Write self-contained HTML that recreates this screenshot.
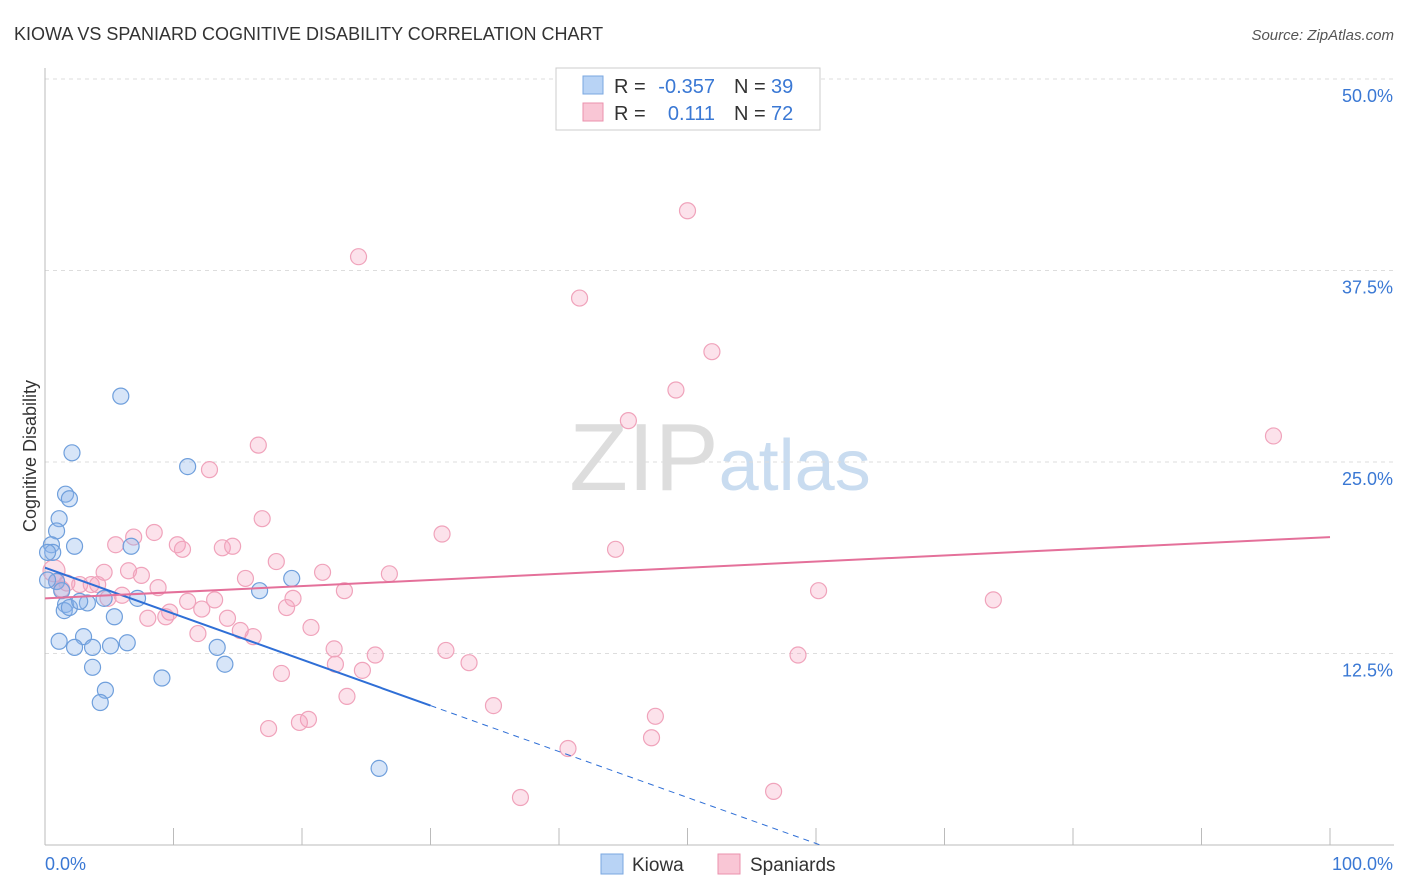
<!DOCTYPE html>
<html><head><meta charset="utf-8">
<style>
body{margin:0;background:#fff;font-family:"Liberation Sans",sans-serif;}
#wrap{position:relative;width:1406px;height:892px;overflow:hidden}
text{font-family:"Liberation Sans",sans-serif}
</style></head>
<body>
<div id="wrap">
<svg id="chart" width="1406" height="892">
<text x="14" y="40" font-size="18" fill="#333">KIOWA VS SPANIARD COGNITIVE DISABILITY CORRELATION CHART</text>
<text x="1394" y="40" font-size="15" fill="#555" text-anchor="end" font-style="italic">Source: ZipAtlas.com</text>
<text x="36" y="456" font-size="18" fill="#333" text-anchor="middle" transform="rotate(-90 36 456)">Cognitive Disability</text>
<text x="720" y="490" font-size="96" fill="#ddd" text-anchor="middle" font-family="Liberation Serif">ZIP<tspan fill="#c9dcf0" font-family="Liberation Sans" font-size="72">atlas</tspan></text>
<g id="grid"></g><g id="marks"></g>
<g>
<rect x="556" y="68" width="264" height="62" fill="#fff" stroke="#ccc"/>
<rect x="583" y="76" width="20" height="18" fill="#b8d3f5" stroke="#7aa7e0"/>
<text x="614" y="93" font-size="20" fill="#333">R =</text>
<text x="715" y="93" font-size="20" fill="#3a78d4" text-anchor="end">-0.357</text>
<text x="734" y="93" font-size="20" fill="#333">N =</text>
<text x="771" y="93" font-size="20" fill="#3a78d4">39</text>
<rect x="583" y="103" width="20" height="18" fill="#f9c6d5" stroke="#eb91ad"/>
<text x="614" y="120" font-size="20" fill="#333">R =</text>
<text x="715" y="120" font-size="20" fill="#3a78d4" text-anchor="end">0.111</text>
<text x="734" y="120" font-size="20" fill="#333">N =</text>
<text x="771" y="120" font-size="20" fill="#3a78d4">72</text>
</g>
<g>
<rect x="601" y="854" width="22" height="20" fill="#b8d3f5" stroke="#7aa7e0"/>
<text x="632" y="871" font-size="19" fill="#333">Kiowa</text>
<rect x="718" y="854" width="22" height="20" fill="#f9c6d5" stroke="#eb91ad"/>
<text x="750" y="871" font-size="19" fill="#333">Spaniards</text>
</g>
</svg></div>
<script>
const yTicks=[12.5,25.0,37.5,50.0];
const kiowaX=[5.9,2.1,11.1,1.6,1.9,1.1,0.9,0.5,2.3,6.7,0.6,0.2,0.9,1.3,1.6,1.5,1.9,3.3,2.7,7.2,4.6,16.7,19.2,5.4,1.1,3.0,2.3,3.7,5.1,6.4,13.4,3.7,14.0,9.1,4.7,4.3,26.0,0.2];
const kiowaY=[29.3,25.6,24.7,22.9,22.6,21.3,20.5,19.6,19.5,19.5,19.1,19.1,17.2,16.6,15.7,15.3,15.5,15.8,15.9,16.1,16.1,16.6,17.4,14.9,13.3,13.6,12.9,12.9,13.0,13.2,12.9,11.6,11.8,10.9,10.1,9.3,5.0,17.3];
const spanX=[50.0,24.4,41.6,51.9,49.1,45.4,95.6,16.6,12.8,16.9,30.9,8.5,6.9,5.5,10.3,10.7,13.8,14.6,44.4,18.0,21.6,26.8,6.5,4.6,7.5,15.6,0.9,1.7,2.7,3.6,4.1,1.3,8.8,23.3,60.2,6.0,4.9,19.3,11.1,13.2,73.8,18.8,12.2,9.7,9.4,8.0,14.2,20.7,15.2,16.2,11.9,22.5,31.2,25.7,58.6,22.6,24.7,33.0,18.4,23.5,34.9,47.5,20.5,19.8,17.4,47.2,40.7,56.7,37.0,0.7];
const spanY=[41.4,38.4,35.7,32.2,29.7,27.7,26.7,26.1,24.5,21.3,20.3,20.4,20.1,19.6,19.6,19.3,19.4,19.5,19.3,18.5,17.8,17.7,17.9,17.8,17.6,17.4,17.2,17.1,17.0,17.0,17.0,16.7,16.8,16.6,16.6,16.3,16.1,16.1,15.9,16.0,16.0,15.5,15.4,15.2,14.9,14.8,14.8,14.2,14.0,13.6,13.8,12.8,12.7,12.4,12.4,11.8,11.4,11.9,11.2,9.7,9.1,8.4,8.2,8.0,7.6,7.0,6.3,3.5,3.1,17.9];
const kiowaTrend=[18.1,-0.3];
const spanTrend=[16.1,0.04];
const NS='http://www.w3.org/2000/svg';
const xs=v=>45+v*12.85, ys=v=>845-v*15.32;
function mk(t,a,p){const e=document.createElementNS(NS,t);for(const k in a)e.setAttribute(k,a[k]);p.appendChild(e);return e;}
const grid=document.getElementById('grid'),marks=document.getElementById('marks');
for(const t of yTicks){
 const l=mk('line',{x1:45,x2:1394,y1:ys(t),y2:ys(t),stroke:'#ddd','stroke-dasharray':'4,4'},grid);
 
 
 const tx=mk('text',{x:1393,y:ys(t)+23,'font-size':18,fill:'#3a78d4','text-anchor':'end'},grid);
 tx.textContent=t.toFixed(1)+'%';
 
 
}
const ax=mk('line',{x1:45,x2:1394,y1:845,y2:845,stroke:'#bbb'},grid);


const ay=mk('line',{x1:45,x2:45,y1:68,y2:845,stroke:'#bbb'},grid);


for(let i=1;i<=10;i++){const tk=mk('line',{x1:xs(i*10),x2:xs(i*10),y1:828,y2:845,stroke:'#bbb'},grid);
 
 }
const x0=mk('text',{x:45,y:870,'font-size':18,fill:'#3a78d4'},grid);x0.textContent='0.0%';


const x1=mk('text',{x:1393,y:870,'font-size':18,fill:'#3a78d4','text-anchor':'end'},grid);x1.textContent='100.0%';


spanX.forEach((x,i)=>{const c=mk('circle',{cx:xs(x),cy:ys(spanY[i]),r:i==spanX.length-1?11:8,fill:'rgba(244,160,188,0.3)',stroke:'#f0a3bb','stroke-width':1.2},marks);
 
 });
kiowaX.forEach((x,i)=>{const c=mk('circle',{cx:xs(x),cy:ys(kiowaY[i]),r:8,fill:'rgba(140,180,235,0.35)',stroke:'#6f9fdc','stroke-width':1.2},marks);
 
 });
const ky=x=>kiowaTrend[0]+kiowaTrend[1]*x;
const kl=mk('line',{x1:xs(0),y1:ys(ky(0)),x2:xs(30),y2:ys(ky(30)),stroke:'#2f6fd6','stroke-width':2},marks);


const xe=-kiowaTrend[0]/kiowaTrend[1];
const kd=mk('line',{x1:xs(30),y1:ys(ky(30)),x2:xs(xe),y2:ys(0),stroke:'#2f6fd6','stroke-width':1,'stroke-dasharray':'6,5'},marks);


const sy=x=>spanTrend[0]+spanTrend[1]*x;
const sl=mk('line',{x1:xs(0),y1:ys(sy(0)),x2:xs(100),y2:ys(sy(100)),stroke:'#e4709a','stroke-width':2},marks);


</script>
</body></html>
